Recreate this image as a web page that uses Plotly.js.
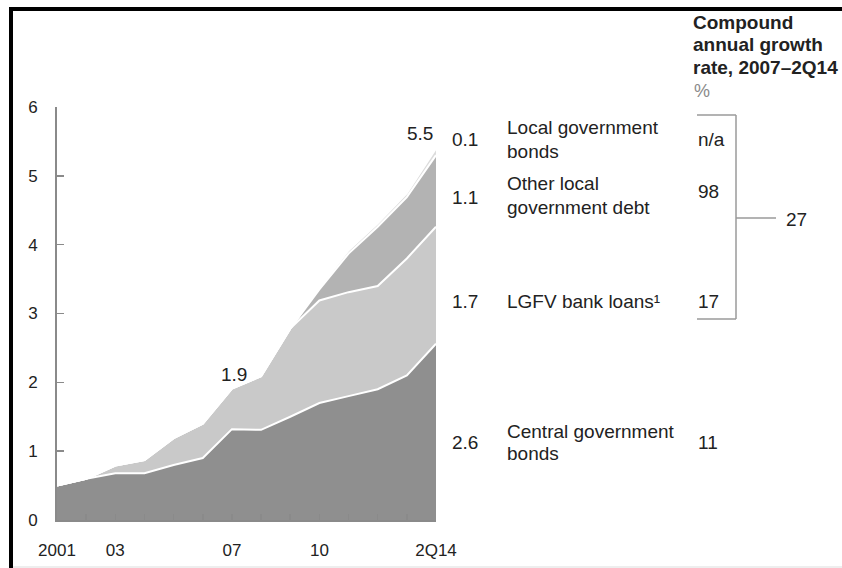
<!DOCTYPE html>
<html>
<head>
<meta charset="utf-8">
<script src="https://cdn.plot.ly/plotly-3.0.1.min.js"></script>
<style>
  html, body { margin: 0; padding: 0; background: #fff; }
  #chart { width: 842px; height: 568px; }
</style>
</head>
<body>
<div id="chart"></div>
<script>
// ---- data (trillions) ----
const periods = ['2001','2002','2003','2004','2005','2006','2007','2008','2009','2010','2011','2012','2013','2Q14'];
const tickLabels = ['2001','','03','','','','07','','','10','','','','2Q14'];
const centralBonds = [0.5, 0.6, 0.68, 0.68, 0.8, 0.9, 1.32, 1.31, 1.5, 1.7, 1.8, 1.9, 2.1, 2.56];
const lgfvLoans    = [0, 0, 0.11, 0.19, 0.39, 0.5, 0.59, 0.78, 1.28, 1.49, 1.51, 1.5, 1.7, 1.7];
const otherLocal   = [0, 0, 0, 0, 0, 0, 0, 0, 0, 0.16, 0.56, 0.86, 0.89, 1.04];
const localBonds   = [0, 0, 0, 0, 0, 0, 0, 0, 0, 0.03, 0.05, 0.05, 0.06, 0.1];
const seriesNames  = ['Central government<br>bonds', 'LGFV bank loans¹', 'Other local<br>government debt', 'Local government<br>bonds'];
const endValues    = ['2.6', '1.7', '1.1', '0.1'];
const cagr         = ['11', '17', '98', 'n/a'];
const totalCagr    = '27';
const headerLines  = ['Compound', 'annual growth', 'rate, 2007–2Q14'];
const calloutLabels = [{i: 6, text: '1.9'}, {i: 13, text: '5.5'}];

// ---- geometry helpers (pixel -> paper) ----
const L = 57, R = 436, T = 107, B = 520;
const px = x => (x - L) / (R - L);
const py = y => (B - y) / (B - T);

const fills = ['#8f8f8f', '#c9c9c9', '#b3b3b3', '#dcdcdc'];
const values = [centralBonds, lgfvLoans, otherLocal, localBonds];

const traces = values.map((v, k) => ({
  type: 'scatter', mode: 'lines', x: periods, y: v, stackgroup: 'debt',
  fillcolor: fills[k], line: {color: '#ffffff', width: 2}, hoverinfo: 'skip',
  name: seriesNames[k].replace('<br>', ' ')
}));

const font = {family: 'Liberation Sans, Arial, sans-serif', size: 17, color: '#222'};
const sideFont = {family: font.family, size: 19, color: '#222'};
const totals = periods.map((_, i) => values.reduce((s, v) => s + v[i], 0));

const ann = [];
const txt = (x, y, text, f, extra) => ann.push(Object.assign({x: px(x), y: py(y), xref: 'paper', yref: 'paper',
  text, showarrow: false, xanchor: 'left', yanchor: 'middle', align: 'left', font: f}, extra || {}));

// callouts above the stack (category axis: x given as index)
calloutLabels.forEach(c => {
  const last = c.i === periods.length - 1;
  ann.push({x: c.i, y: totals[c.i], xref: 'x', yref: 'y', text: c.text, showarrow: false,
    xanchor: last ? 'right' : 'center', yanchor: 'bottom', xshift: last ? -1 : 2, yshift: 2, font: sideFont});
});

// right-hand labels
const valueY = [442, 301, 197, 140];
const cagrY  = [442, 301, 191, 140];
const nameY  = [[431, 453], [301], [184, 207], [128, 151]];
for (let k = 0; k < 4; k++) {
  txt(450, valueY[k], endValues[k], sideFont);
  seriesNames[k].split('<br>').forEach((line, j) => txt(505, nameY[k][j], line, sideFont));
  txt(696, cagrY[k], cagr[k], sideFont);
}
txt(784, 219, totalCagr, sideFont);
headerLines.forEach((line, j) => txt(691, 22 + j * 22.5, '<b>' + line + '</b>', sideFont));
txt(692, 91, '%', {family: font.family, size: 18, color: '#8a8a8a'});

const lineStyle = {color: '#9a9a9a', width: 1.5};
const seg = (x0, y0, x1, y1, ls) => ({type: 'line', xref: 'paper', yref: 'paper',
  x0: px(x0), x1: px(x1), y0: py(y0), y1: py(y1), line: ls || lineStyle});
const frame = {color: '#000', width: 4};
const shapes = [
  seg(697, 115, 736, 115), seg(697, 319, 736, 319), seg(736, 115, 736, 319), seg(736, 218, 776, 218),
  // outer frame (thick black top and left, faint bottom)
  seg(9, 9, 842, 9, frame), seg(11, 7, 11, 568, frame),
  seg(13, 567, 842, 567, {color: '#dddddd', width: 1})
];

const layout = {
  width: 842, height: 568,
  margin: {l: L, r: 842 - R, t: T, b: 568 - B, pad: 0},
  paper_bgcolor: '#fff', plot_bgcolor: '#fff',
  showlegend: false,
  font,
  xaxis: {type: 'category', range: [0, 13], tickvals: periods, ticktext: tickLabels,
    ticks: 'inside', ticklen: 6, tickwidth: 1.5, tickcolor: '#8a8a8a',
    showline: true, linecolor: '#8a8a8a', linewidth: 2, showgrid: false, zeroline: false,
    tickfont: font, ticklabelstandoff: 14, fixedrange: true},
  yaxis: {range: [0, 6], tickvals: [0,1,2,3,4,5,6], ticks: 'inside', ticklen: 7, tickwidth: 1.5,
    tickcolor: '#8a8a8a', showline: true, linecolor: '#8a8a8a', linewidth: 2, showgrid: false,
    zeroline: false, tickfont: font, ticklabelstandoff: 14, fixedrange: true},
  annotations: ann,
  shapes
};

Plotly.newPlot('chart', traces, layout, {displayModeBar: false, staticPlot: true});
</script>
</body>
</html>
